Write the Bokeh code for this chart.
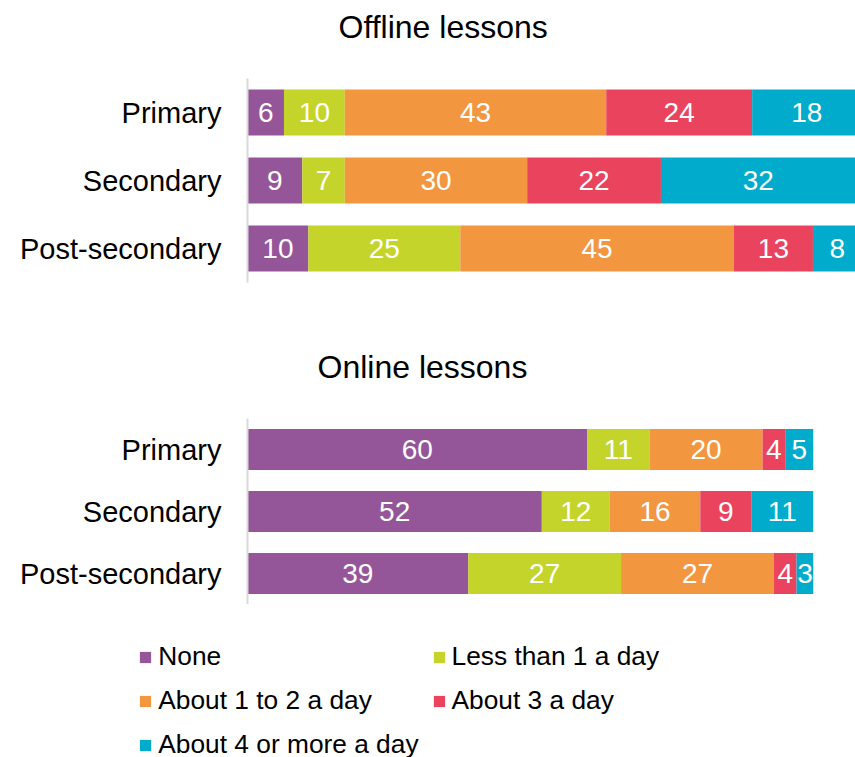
from bokeh.plotting import figure
from bokeh.layouts import column
from bokeh.models import ColumnDataSource, Legend, FactorRange, Range1d, Title
from bokeh.core.properties import value
from bokeh.embed import file_html
from bokeh.resources import INLINE

categories = ["Primary", "Secondary", "Post-secondary"]
series = ["None", "Less than 1 a day", "About 1 to 2 a day", "About 3 a day", "About 4 or more a day"]
colors = ["#955699", "#C4D42B", "#F2963F", "#E9435D", "#00ABCB"]

offline_none = [6, 9, 10]
offline_less1 = [10, 7, 25]
offline_1to2 = [43, 30, 45]
offline_3 = [24, 22, 13]
offline_4plus = [18, 32, 8]

online_none = [60, 52, 39]
online_less1 = [11, 12, 27]
online_1to2 = [20, 16, 27]
online_3 = [4, 9, 4]
online_4plus = [5, 11, 3]

FONT = "Liberation Sans"
keys = ["s0", "s1", "s2", "s3", "s4"]


def stack_source(cols):
    data = {"cat": categories}
    for k, c in zip(keys, cols):
        data[k] = c
    return ColumnDataSource(data)


def make_chart(title, cols, frame_width, frame_height, bar_h, border_top, border_bottom, title_offset):
    src = stack_source(cols)
    p = figure(
        y_range=FactorRange(factors=list(reversed(categories)), range_padding=0),
        x_range=Range1d(0, 100),
        frame_width=frame_width, frame_height=frame_height,
        min_border_left=247, min_border_right=855 - 247 - frame_width,
        min_border_top=border_top, min_border_bottom=border_bottom,
        output_backend="svg", toolbar_location=None, title=None,
    )
    p.hbar_stack(keys, y="cat", height=bar_h, color=colors, source=src, line_color=None)
    # labels centred in each segment
    lefts = [0] * len(categories)
    for k, c in zip(keys, cols):
        xs = [l + v / 2 for l, v in zip(lefts, c)]
        lsrc = ColumnDataSource(dict(x=xs, y=categories, t=[str(v) for v in c]))
        p.text(x="x", y="y", text="t", source=lsrc, text_color="white",
               text_font=value(FONT), text_font_size="28px",
               text_align="center", text_baseline="middle")
        lefts = [l + v for l, v in zip(lefts, c)]
    # spacer between the frame and the title, then the title itself
    p.add_layout(Title(text=" ", text_font_size="1px", standoff=26), "above")
    p.add_layout(Title(text=title, text_font=FONT, text_font_size="32px",
                       text_font_style="normal", text_color="black",
                       align="left", offset=title_offset), "above")
    p.xaxis.visible = False
    p.xgrid.visible = False
    p.ygrid.visible = False
    p.outline_line_color = None
    ax = p.yaxis[0]
    ax.major_tick_line_color = None
    ax.minor_tick_line_color = None
    ax.axis_line_color = "#D9D9D9"
    ax.axis_line_width = 2
    ax.major_label_text_font = FONT
    ax.major_label_text_font_size = "29px"
    ax.major_label_text_color = "black"
    ax.major_label_standoff = 20
    return p


online_cols = [online_none, online_less1, online_1to2, online_3, online_4plus]
p1 = make_chart("Offline lessons",
                [offline_none, offline_less1, offline_1to2, offline_3, offline_4plus],
                608, 204, 0.68, 78, 18, 91)
p2 = make_chart("Online lessons", online_cols, 566, 186, 0.66, 118, 0, 70)

# legend panel (hidden copies of the online bars supply the legend glyphs)
p3 = figure(frame_width=725, frame_height=153,
            y_range=FactorRange(factors=list(reversed(categories))), x_range=Range1d(0, 100),
            min_border_left=130, min_border_right=0, min_border_top=0, min_border_bottom=0,
            output_backend="svg", toolbar_location=None)
p3.axis.visible = False
p3.grid.visible = False
p3.outline_line_color = None
hidden = p3.hbar_stack(keys, y="cat", height=0.5, color=colors, source=stack_source(online_cols),
                       line_color=None)
for r in hidden:
    r.visible = False
legend = Legend(
    items=[(name, [r]) for name, r in zip(series, hidden)],
    orientation="horizontal", ncols=2,
    location=(95, -3),
    border_line_color=None, background_fill_alpha=0,
    inactive_fill_alpha=0,
    padding=0, margin=0,
    label_text_font=FONT, label_text_font_size="26.3px", label_text_color="black",
    glyph_width=14, glyph_height=14, label_standoff=6,
    spacing=13, label_height=30,
)
p3.add_layout(legend)

layout = column(p1, p2, p3, spacing=0)
open("out.html", "w").write(file_html(layout, INLINE))
